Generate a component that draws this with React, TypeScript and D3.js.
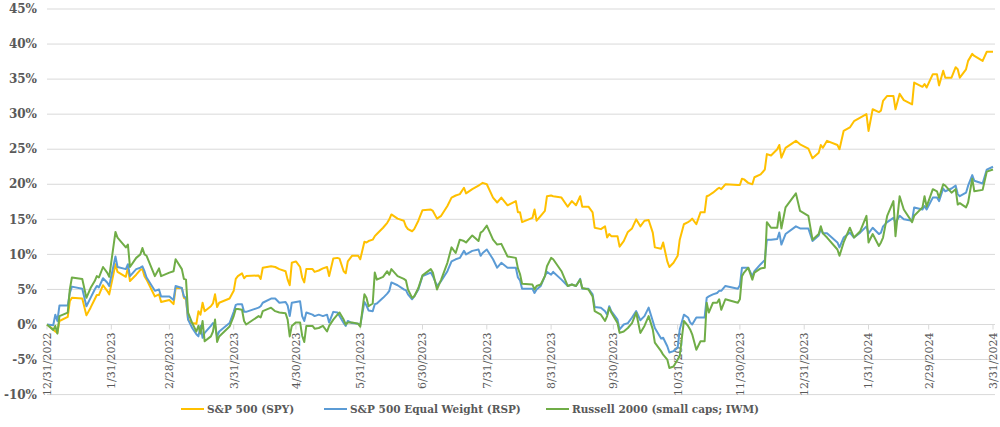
import React, { useEffect, useRef } from 'react';
import * as d3 from 'd3';

// cumulative total return (%) since 12/31/2022
const dates = [
  "2022-12-31", "2023-01-03", "2023-01-04", "2023-01-05", "2023-01-06", "2023-01-10", "2023-01-11", "2023-01-12", "2023-01-17", "2023-01-19",
  "2023-01-21", "2023-01-23", "2023-01-24", "2023-01-25", "2023-01-27", "2023-01-29", "2023-01-30", "2023-02-02", "2023-02-03", "2023-02-07",
  "2023-02-08", "2023-02-09", "2023-02-12", "2023-02-14", "2023-02-15", "2023-02-16", "2023-02-17", "2023-02-21", "2023-02-23", "2023-02-24",
  "2023-02-28", "2023-03-02", "2023-03-03", "2023-03-06", "2023-03-07", "2023-03-08", "2023-03-09", "2023-03-11", "2023-03-13", "2023-03-14",
  "2023-03-15", "2023-03-16", "2023-03-17", "2023-03-20", "2023-03-21", "2023-03-22", "2023-03-23", "2023-03-24", "2023-03-29", "2023-03-31",
  "2023-04-01", "2023-04-02", "2023-04-04", "2023-04-05", "2023-04-06", "2023-04-12", "2023-04-13", "2023-04-14", "2023-04-18", "2023-04-20",
  "2023-04-22", "2023-04-25", "2023-04-26", "2023-04-27", "2023-04-28", "2023-04-30", "2023-05-02", "2023-05-03", "2023-05-04", "2023-05-05",
  "2023-05-08", "2023-05-09", "2023-05-11", "2023-05-13", "2023-05-15", "2023-05-16", "2023-05-18", "2023-05-20", "2023-05-21", "2023-05-23",
  "2023-05-24", "2023-05-25", "2023-05-27", "2023-05-30", "2023-05-31", "2023-06-02", "2023-06-03", "2023-06-04", "2023-06-06", "2023-06-07",
  "2023-06-08", "2023-06-11", "2023-06-13", "2023-06-14", "2023-06-15", "2023-06-18", "2023-06-21", "2023-06-22", "2023-06-23", "2023-06-25",
  "2023-06-26", "2023-06-28", "2023-06-30", "2023-07-04", "2023-07-05", "2023-07-07", "2023-07-09", "2023-07-12", "2023-07-14", "2023-07-16",
  "2023-07-18", "2023-07-20", "2023-07-21", "2023-07-24", "2023-07-27", "2023-07-28", "2023-07-29", "2023-07-31", "2023-08-03", "2023-08-05",
  "2023-08-07", "2023-08-10", "2023-08-14", "2023-08-15", "2023-08-16", "2023-08-17", "2023-08-22", "2023-08-23", "2023-08-24", "2023-08-26",
  "2023-08-28", "2023-08-29", "2023-08-31", "2023-09-01", "2023-09-05", "2023-09-08", "2023-09-10", "2023-09-12", "2023-09-14", "2023-09-15",
  "2023-09-18", "2023-09-20", "2023-09-21", "2023-09-24", "2023-09-26", "2023-09-27", "2023-09-28", "2023-09-29", "2023-10-02", "2023-10-03",
  "2023-10-05", "2023-10-07", "2023-10-09", "2023-10-11", "2023-10-13", "2023-10-15", "2023-10-17", "2023-10-19", "2023-10-20", "2023-10-23",
  "2023-10-24", "2023-10-26", "2023-10-27", "2023-10-29", "2023-10-31", "2023-11-01", "2023-11-03", "2023-11-05", "2023-11-06", "2023-11-07",
  "2023-11-09", "2023-11-11", "2023-11-13", "2023-11-14", "2023-11-15", "2023-11-17", "2023-11-19", "2023-11-20", "2023-11-21", "2023-11-23",
  "2023-11-29", "2023-11-30", "2023-12-01", "2023-12-02", "2023-12-04", "2023-12-06", "2023-12-07", "2023-12-10", "2023-12-12", "2023-12-13",
  "2023-12-15", "2023-12-18", "2023-12-19", "2023-12-20", "2023-12-22", "2023-12-27", "2023-12-29", "2024-01-02", "2024-01-04", "2024-01-07",
  "2024-01-08", "2024-01-09", "2024-01-11", "2024-01-16", "2024-01-17", "2024-01-19", "2024-01-22", "2024-01-24", "2024-01-27", "2024-01-30",
  "2024-01-31", "2024-02-02", "2024-02-05", "2024-02-06", "2024-02-07", "2024-02-09", "2024-02-12", "2024-02-13", "2024-02-15", "2024-02-17",
  "2024-02-21", "2024-02-22", "2024-02-26", "2024-02-27", "2024-02-28", "2024-03-02", "2024-03-04", "2024-03-05", "2024-03-07", "2024-03-08",
  "2024-03-11", "2024-03-13", "2024-03-14", "2024-03-15", "2024-03-18", "2024-03-19", "2024-03-21", "2024-03-22", "2024-03-26", "2024-03-28", "2024-03-31",
];

const spy = [
  0, -0.7, -1.0, -1.2, 0.5, 1.1, 3.3, 3.8, 3.7, 1.3,
  2.4, 3.6, 4.2, 4.2, 5.6, 4.8, 4.3, 8.6, 7.5, 6.8,
  8.1, 6.2, 7.1, 7.8, 7.9, 6.9, 6.4, 4.0, 4.3, 3.2,
  3.5, 2.9, 5.2, 5.2, 3.8, 3.6, 0.7, 0.2, 0.1, 1.9,
  1.4, 3.1, 1.9, 2.6, 3.0, 4.3, 2.5, 3.1, 3.7, 4.8,
  6.5, 6.9, 7.3, 6.6, 6.9, 7.0, 6.5, 8.1, 8.3, 8.2,
  7.9, 7.6, 6.4, 5.6, 8.8, 9.0, 8.2, 6.7, 6.0, 7.9,
  7.9, 7.5, 7.7, 8.0, 8.2, 6.9, 9.4, 9.5, 9.4, 7.6,
  7.3, 9.0, 9.8, 9.8, 9.3, 11.8, 11.7, 11.9, 12.1, 12.6,
  12.9, 13.8, 14.5, 15.0, 15.7, 15.1, 14.8, 14.0, 13.6, 13.3,
  13.6, 14.8, 16.3, 16.4, 16.2, 15.1, 15.5, 16.9, 18.1, 18.4,
  18.6, 19.5, 18.7, 19.3, 19.8, 20.0, 20.2, 20.0, 18.1, 17.4,
  18.1, 17.0, 17.6, 16.0, 16.0, 14.6, 15.2, 16.4, 14.8, 15.5,
  16.2, 18.3, 18.4, 18.3, 18.1, 16.8, 17.6, 17.0, 18.3, 16.8,
  16.8, 16.0, 13.8, 13.6, 14.0, 12.4, 12.9, 12.6, 12.6, 11.1,
  11.9, 13.2, 13.7, 15.0, 14.0, 14.8, 14.9, 13.1, 11.0, 10.8,
  11.7, 9.0, 8.2, 8.8, 9.8, 12.1, 14.3, 14.6, 14.8, 15.1,
  14.3, 16.0, 16.0, 18.3, 18.4, 18.8, 19.3, 19.5, 19.3, 20.0,
  19.9, 19.9, 20.8, 20.7, 20.2, 20.0, 21.0, 21.4, 22.1, 24.3,
  24.1, 25.0, 25.6, 23.8, 25.2, 26.2, 25.7, 25.1, 23.7, 24.5,
  25.6, 25.2, 26.2, 25.6, 25.0, 27.6, 28.1, 29.0, 29.5, 30.0,
  27.6, 30.7, 30.3, 30.5, 31.9, 32.6, 32.6, 30.7, 32.9, 32.0,
  31.4, 34.5, 33.9, 34.3, 33.8, 35.7, 35.7, 34.1, 36.2, 35.2,
  35.2, 36.7, 36.4, 35.2, 36.4, 37.6, 38.6, 38.3, 37.6, 38.9, 38.9,
];

const rsp = [
  0, -0.1, 1.4, 0.5, 2.7, 2.7, 4.5, 5.4, 5.1, 2.6,
  3.8, 5.0, 5.5, 5.3, 6.6, 6.0, 5.5, 9.7, 8.2, 7.9,
  8.6, 6.9, 7.9, 8.1, 8.3, 7.6, 6.7, 4.8, 5.0, 4.0,
  4.0, 3.5, 5.5, 5.2, 4.0, 3.8, 0.7, -0.5, -1.4, -1.7,
  -0.2, -1.9, -1.2, -0.2, 0.2, -0.2, -1.7, -1.0, 0.2, 1.8,
  2.8, 2.9, 2.9, 1.8, 1.8, 2.4, 2.6, 3.1, 3.7, 3.7,
  3.1, 3.2, 2.7, 1.2, 3.1, 3.2, 3.3, 1.2, 0.5, 1.7,
  1.4, 1.2, 1.4, 1.2, 1.4, 0.3, 1.8, 1.7, 1.2, 0.2,
  -0.2, 0.5, 0.2, 0.1, -0.1, 3.2, 2.7, 2.0, 1.9, 2.9,
  3.0, 3.8, 4.4, 4.8, 6.0, 5.6, 5.0, 4.9, 4.3, 3.6,
  4.0, 5.0, 6.9, 7.4, 6.9, 5.5, 6.2, 7.6, 9.0, 9.3,
  9.5, 10.5, 10.0, 10.5, 10.7, 9.8, 10.2, 10.7, 9.3, 8.1,
  8.8, 8.1, 8.1, 6.7, 6.3, 5.1, 5.1, 4.5, 5.0, 5.5,
  6.9, 7.5, 7.1, 7.5, 6.4, 5.5, 5.7, 5.5, 6.5, 5.1,
  5.1, 4.3, 2.5, 2.4, 1.9, 1.4, 2.6, 1.9, 0.7, -0.7,
  0.0, 0.2, 1.0, 1.9, 0.6, 1.2, 2.4, 0.5, -0.5, -2.0,
  -1.9, -3.1, -4.0, -3.8, -3.3, -0.7, 1.4, 1.0, 0.3, 0.0,
  1.0, 1.0, 1.0, 3.8, 4.0, 4.3, 4.5, 4.8, 4.8, 5.5,
  5.1, 5.6, 8.1, 8.1, 8.1, 6.9, 7.6, 8.6, 9.2, 12.1,
  12.1, 12.2, 13.1, 11.4, 12.9, 14.0, 13.7, 13.7, 11.9, 12.7,
  13.7, 13.0, 13.0, 11.7, 11.0, 12.4, 13.1, 12.4, 13.1, 14.0,
  13.0, 13.8, 12.9, 13.1, 14.0, 14.6, 15.2, 14.5, 15.5, 15.0,
  14.8, 16.7, 16.4, 16.9, 16.4, 18.1, 18.1, 17.6, 19.4, 19.0,
  19.4, 19.8, 18.6, 18.3, 18.8, 19.8, 21.3, 20.5, 20.1, 22.1, 22.5,
];

const iwm = [
  0, -0.8, -0.2, -1.3, 1.2, 1.7, 5.0, 6.7, 6.5, 3.8,
  5.2, 6.2, 6.9, 6.7, 8.2, 7.4, 6.8, 13.2, 12.4, 11.0,
  11.4, 8.2, 9.5, 10.0, 10.9, 10.0, 9.8, 6.9, 8.0, 6.9,
  7.4, 7.6, 9.3, 7.9, 6.5, 6.4, 1.7, 0.2, -1.0, -0.2,
  -1.3, 0.5, -2.4, -1.7, -1.0, 0.7, -2.5, -1.7, -0.3, 1.2,
  2.2, 2.2, 2.1, 0.5, 0.0, 1.2, 1.0, 1.9, 2.4, 1.9,
  1.7, 1.6, 0.7, -1.7, -0.2, 0.3, 0.3, -1.6, -2.5, -0.2,
  -0.2, -0.6, -0.5, -0.2, -1.0, -0.2, 0.7, 1.4, 1.7, 0.7,
  0.0, 0.3, 0.3, 0.1, -0.3, 4.3, 3.8, 2.6, 3.0, 7.4,
  6.4, 6.8, 7.6, 7.1, 7.9, 6.9, 6.5, 6.3, 5.0, 3.8,
  4.0, 5.2, 7.0, 7.9, 7.4, 5.0, 6.4, 8.8, 11.0, 10.2,
  12.1, 11.9, 11.7, 12.7, 11.9, 13.1, 13.3, 14.1, 12.1, 11.4,
  11.5, 9.7, 9.5, 8.0, 7.2, 5.8, 5.7, 5.0, 5.5, 5.7,
  6.9, 8.3, 9.5, 9.3, 7.6, 5.5, 5.7, 5.5, 6.4, 5.2,
  5.0, 4.0, 1.9, 1.4, 0.5, 1.2, 2.4, 1.7, 0.2, -1.2,
  -1.0, -0.5, 0.2, 1.7, -1.2, -0.2, 1.2, -0.7, -2.6, -3.8,
  -4.3, -5.0, -6.2, -6.0, -5.0, -4.5, 0.5, -0.2, -0.7, -1.4,
  -3.6, -2.4, -2.4, 3.1, 1.7, 3.1, 3.1, 3.6, 2.1, 3.6,
  3.1, 3.6, 6.9, 7.4, 8.1, 6.4, 7.4, 8.0, 8.1, 14.6,
  13.8, 13.8, 16.0, 13.7, 16.7, 18.7, 16.2, 15.5, 12.1, 12.9,
  14.0, 13.0, 12.4, 10.7, 9.8, 11.7, 13.8, 12.4, 13.3, 15.5,
  11.7, 12.9, 11.2, 11.7, 12.4, 15.5, 17.6, 12.6, 18.3, 16.4,
  14.6, 15.5, 16.7, 18.3, 16.8, 19.3, 19.0, 18.1, 20.0, 19.8,
  18.8, 19.3, 17.1, 17.3, 16.7, 17.4, 20.8, 19.0, 19.2, 21.8, 22.1,
];

const yTicks = [-10, -5, 0, 5, 10, 15, 20, 25, 30, 35, 40, 45];
const seriesNames = ["S&P 500 (SPY)", "S&P 500 Equal Weight (RSP)", "Russell 2000 (small caps; IWM)"];
const seriesColors = ["#FFC000", "#5B9BD5", "#70AD47"];

const FONT = '"DejaVu Serif", "Liberation Serif", serif';

export default function App() {
  const svgRef = useRef<SVGSVGElement>(null);

  useEffect(() => {
    if (!svgRef.current) return;
    const svg = d3.select(svgRef.current);
    svg.selectAll("*").remove();

    const parse = d3.timeParse("%Y-%m-%d");
    const xDates = dates.map(d => parse(d) as Date);

    const x = d3.scaleTime()
      .domain([parse("2022-12-31") as Date, parse("2024-03-31") as Date])
      .range([47, 993]);
    const y = d3.scaleLinear().domain([-10, 45]).range([394.6, 9]);

    // horizontal gridlines
    svg.append("g")
      .selectAll("line")
      .data(yTicks)
      .enter()
      .append("line")
      .attr("x1", 47)
      .attr("x2", 995)
      .attr("y1", d => y(d))
      .attr("y2", d => y(d))
      .attr("stroke", "#d9d9d9")
      .attr("stroke-width", 1);

    // y labels
    svg.append("g")
      .selectAll("text")
      .data(yTicks)
      .enter()
      .append("text")
      .attr("x", 37)
      .attr("y", d => y(d))
      .attr("dy", "0.35em")
      .attr("text-anchor", "end")
      .style("font-family", FONT)
      .style("font-size", "12px")
      .style("font-weight", "bold")
      .attr("fill", "#595959")
      .text(d => `${d}%`);

    // month-end ticks along the 0% line
    const monthEnds = d3.timeMonth
      .range(new Date(2023, 0, 1), new Date(2024, 3, 2))
      .map(d => d3.timeDay.offset(d, -1));
    const fmt = d3.timeFormat("%-m/%-d/%Y");

    svg.append("g")
      .selectAll("line")
      .data(monthEnds)
      .enter()
      .append("line")
      .attr("x1", d => x(d))
      .attr("x2", d => x(d))
      .attr("y1", y(0))
      .attr("y2", y(0) + 5)
      .attr("stroke", "#d9d9d9")
      .attr("stroke-width", 1);

    svg.append("g")
      .selectAll("text")
      .data(monthEnds)
      .enter()
      .append("text")
      .attr("transform", d => `translate(${x(d)},${y(0) + 8}) rotate(-90)`)
      .attr("dy", "0.35em")
      .attr("text-anchor", "end")
      .style("font-family", FONT)
      .style("font-size", "11px")
      .attr("fill", "#595959")
      .text(d => fmt(d));

    // series lines
    const line = d3.line<number>()
      .x((_, i) => x(xDates[i]))
      .y(v => y(v));

    [spy, rsp, iwm].forEach((vals, i) => {
      svg.append("path")
        .datum(vals)
        .attr("d", line)
        .attr("fill", "none")
        .attr("stroke", seriesColors[i])
        .attr("stroke-width", 2)
        .attr("stroke-linejoin", "round");
    });

    // legend
    const legendX = [207, 350, 572];
    const legend = svg.append("g");
    seriesNames.forEach((name, i) => {
      legend.append("line")
        .attr("x1", legendX[i] - 26)
        .attr("x2", legendX[i] - 3)
        .attr("y1", 409)
        .attr("y2", 409)
        .attr("stroke", seriesColors[i])
        .attr("stroke-width", 2);
      legend.append("text")
        .attr("x", legendX[i])
        .attr("y", 409)
        .attr("dy", "0.35em")
        .style("font-family", FONT)
        .style("font-size", "10.5px")
        .style("font-weight", "bold")
        .attr("fill", "#595959")
        .text(name);
    });
  }, []);

  return (
    <svg
      ref={svgRef}
      width={1000}
      height={427}
      style={{ position: 'absolute', left: 0, top: 0, background: '#fff' }}
    />
  );
}
